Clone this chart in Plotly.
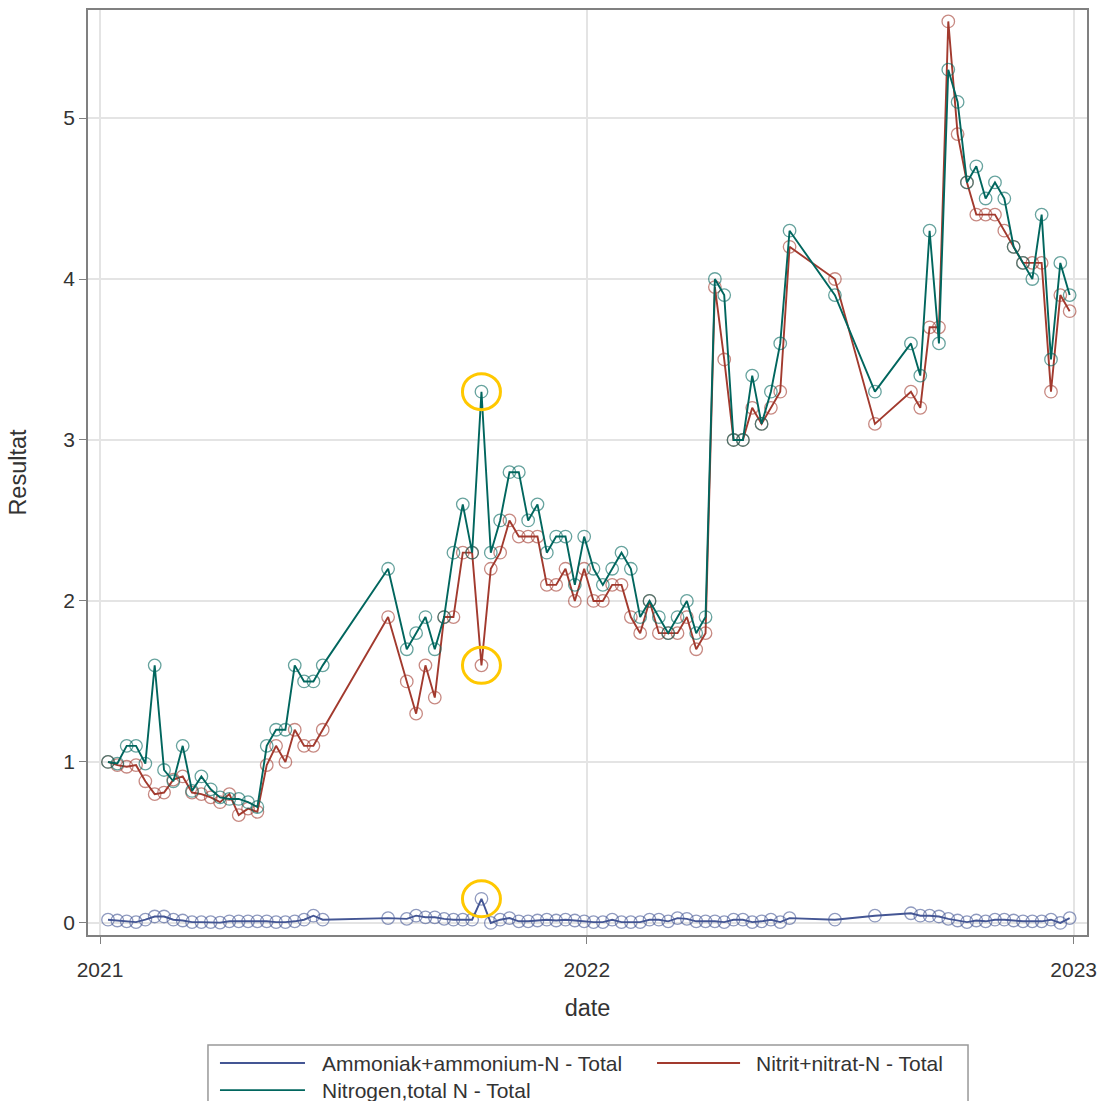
import plotly.graph_objects as go

dates = [
    "2021-01-07", "2021-01-14", "2021-01-21", "2021-01-28", "2021-02-04", "2021-02-11",
    "2021-02-18", "2021-02-25", "2021-03-04", "2021-03-11", "2021-03-18", "2021-03-25",
    "2021-04-01", "2021-04-08", "2021-04-15", "2021-04-22", "2021-04-29", "2021-05-06",
    "2021-05-13", "2021-05-20", "2021-05-27", "2021-06-03", "2021-06-10", "2021-06-17",
    "2021-08-05", "2021-08-19", "2021-08-26", "2021-09-02", "2021-09-09", "2021-09-16",
    "2021-09-23", "2021-09-30", "2021-10-07", "2021-10-14", "2021-10-21", "2021-10-28",
    "2021-11-04", "2021-11-11", "2021-11-18", "2021-11-25", "2021-12-02", "2021-12-09",
    "2021-12-16", "2021-12-23", "2021-12-30",
    "2022-01-06", "2022-01-13", "2022-01-20", "2022-01-27", "2022-02-03", "2022-02-10",
    "2022-02-17", "2022-02-24", "2022-03-03", "2022-03-10", "2022-03-17", "2022-03-24",
    "2022-03-31", "2022-04-07", "2022-04-14", "2022-04-21", "2022-04-28", "2022-05-05",
    "2022-05-12", "2022-05-19", "2022-05-26", "2022-06-02", "2022-07-06", "2022-08-05",
    "2022-09-01", "2022-09-08", "2022-09-15", "2022-09-22", "2022-09-29", "2022-10-06",
    "2022-10-13", "2022-10-20", "2022-10-27", "2022-11-03", "2022-11-10", "2022-11-17",
    "2022-11-24", "2022-12-01", "2022-12-08", "2022-12-15", "2022-12-22", "2022-12-29",
]

ammonium = [
    0.02, 0.015, 0.01, 0.005, 0.02, 0.04, 0.04, 0.02, 0.015, 0.005, 0.005, 0.005,
    0.002, 0.01, 0.01, 0.01, 0.01, 0.01, 0.005, 0.005, 0.01, 0.02, 0.045, 0.02,
    0.03, 0.025, 0.045, 0.035, 0.035, 0.025, 0.02, 0.02, 0.02, 0.15, 0.0, 0.02,
    0.03, 0.01, 0.01, 0.015, 0.02, 0.015, 0.02, 0.015, 0.01,
    0.005, 0.005, 0.02, 0.005, 0.005, 0.005, 0.02, 0.02, 0.01, 0.03, 0.025, 0.01,
    0.01, 0.01, 0.005, 0.02, 0.02, 0.005, 0.01, 0.02, 0.005, 0.03, 0.02, 0.045,
    0.06, 0.045, 0.045, 0.04, 0.025, 0.015, 0.005, 0.015, 0.01, 0.02, 0.02, 0.015,
    0.01, 0.01, 0.01, 0.02, 0.0, 0.03,
]

nitrate = [
    1.0, 0.98, 0.97, 0.98, 0.88, 0.80, 0.81, 0.89, 0.91, 0.81, 0.80, 0.78,
    0.75, 0.80, 0.67, 0.71, 0.69, 0.98, 1.1, 1.0, 1.2, 1.1, 1.1, 1.2,
    1.9, 1.5, 1.3, 1.6, 1.4, 1.9, 1.9, 2.3, 2.3, 1.6, 2.2, 2.3,
    2.5, 2.4, 2.4, 2.4, 2.1, 2.1, 2.2, 2.0, 2.2,
    2.0, 2.0, 2.1, 2.1, 1.9, 1.8, 2.0, 1.8, 1.8, 1.8, 1.9, 1.7,
    1.8, 3.95, 3.5, 3.0, 3.0, 3.2, 3.1, 3.2, 3.3, 4.2, 4.0, 3.1,
    3.3, 3.2, 3.7, 3.7, 5.6, 4.9, 4.6, 4.4, 4.4, 4.4, 4.3, 4.2,
    4.1, 4.1, 4.1, 3.3, 3.9, 3.8,
]

total_n = [
    1.0, 0.99, 1.1, 1.1, 0.99, 1.6, 0.95, 0.88, 1.1, 0.82, 0.91, 0.83,
    0.78, 0.77, 0.77, 0.75, 0.72, 1.1, 1.2, 1.2, 1.6, 1.5, 1.5, 1.6,
    2.2, 1.7, 1.8, 1.9, 1.7, 1.9, 2.3, 2.6, 2.3, 3.3, 2.3, 2.5,
    2.8, 2.8, 2.5, 2.6, 2.3, 2.4, 2.4, 2.1, 2.4,
    2.2, 2.1, 2.2, 2.3, 2.2, 1.9, 2.0, 1.9, 1.8, 1.9, 2.0, 1.8,
    1.9, 4.0, 3.9, 3.0, 3.0, 3.4, 3.1, 3.3, 3.6, 4.3, 3.9, 3.3,
    3.6, 3.4, 4.3, 3.6, 5.3, 5.1, 4.6, 4.7, 4.5, 4.6, 4.5, 4.2,
    4.1, 4.0, 4.4, 3.5, 4.1, 3.9,
]

series_names = ["Ammoniak+ammonium-N - Total", "Nitrit+nitrat-N - Total", "Nitrogen,total N - Total"]
series_colors = ["#445694", "#A23A2E", "#01665E"]
highlight_index = 33  # highlighted sample (yellow rings)

FONT = "Liberation Sans, Arial, sans-serif"
TXT = "#333333"

fig = go.Figure()
for name, vals, col in zip(series_names, [ammonium, nitrate, total_n], series_colors):
    fig.add_trace(go.Scatter(
        x=dates, y=vals, name=name, mode="lines+markers", showlegend=False,
        line=dict(color=col, width=1.9),
        marker=dict(symbol="circle-open", size=12.5, color=col, opacity=0.6,
                    line=dict(width=1.3, color=col)),
    ))

# yellow highlight rings around the flagged sample of each series
for vals in [total_n, nitrate, ammonium]:
    fig.add_shape(
        type="circle", xref="x", yref="y",
        xsizemode="pixel", ysizemode="pixel",
        xanchor=dates[highlight_index], yanchor=vals[highlight_index],
        x0=-19, x1=19, y0=-18, y1=18,
        line=dict(color="#FFC800", width=3),
    )

# legend box drawn below the plot (two columns, line samples only)
fig.add_shape(type="rect", xref="paper", yref="paper",
              x0=0.1201, x1=0.8809, y0=-0.1189, y1=-0.195,
              line=dict(color="#999999", width=1.5), fillcolor="white", layer="above")
legend_pos = [(0.1321, 0.2172, 0.2322, -0.1384),
              (0.5696, 0.6527, 0.6667, -0.1384),
              (0.1321, 0.2172, 0.2322, -0.1676)]
for name, col, (lx0, lx1, tx, ly) in zip(series_names, series_colors, legend_pos):
    fig.add_shape(type="line", xref="paper", yref="paper",
                  x0=lx0, x1=lx1, y0=ly, y1=ly,
                  line=dict(color=col, width=1.8), layer="above")
    fig.add_annotation(xref="paper", yref="paper", x=tx, y=ly, text=name,
                       showarrow=False, xanchor="left", yanchor="middle",
                       font=dict(family=FONT, size=21, color=TXT))

fig.update_layout(
    width=1098, height=1101,
    margin=dict(l=88, r=11, t=10, b=166, autoexpand=False),
    paper_bgcolor="white", plot_bgcolor="white",
    font=dict(family=FONT, size=21, color=TXT),
    showlegend=False,
)

fig.update_xaxes(
    type="date",
    range=["2020-12-23", "2023-01-11"],
    tickvals=["2021-01-01", "2022-01-01", "2023-01-01"],
    ticktext=["2021", "2022", "2023"],
    showgrid=True, gridcolor="#e4e4e4", gridwidth=2,
    showline=True, mirror=True, linecolor="#808080", linewidth=1.5,
    ticks="outside", ticklen=7, tickcolor="#808080",
    ticklabelstandoff=8,
    tickfont=dict(family=FONT, size=21, color=TXT),
    title=dict(text="date", font=dict(family=FONT, size=23.5, color=TXT), standoff=20),
    zeroline=False, automargin=False,
)
fig.update_yaxes(
    range=[-0.075, 5.671],
    tickvals=[0, 1, 2, 3, 4, 5],
    showgrid=True, gridcolor="#e4e4e4", gridwidth=2,
    showline=True, mirror=True, linecolor="#808080", linewidth=1.5,
    ticks="outside", ticklen=7, tickcolor="#808080",
    tickfont=dict(family=FONT, size=21, color=TXT),
    title=dict(text="Resultat", font=dict(family=FONT, size=23.5, color=TXT), standoff=30),
    zeroline=False, automargin=False,
)

fig.write_html("out.html", config={"displayModeBar": False},
               post_script="document.body.style.margin='0';")
